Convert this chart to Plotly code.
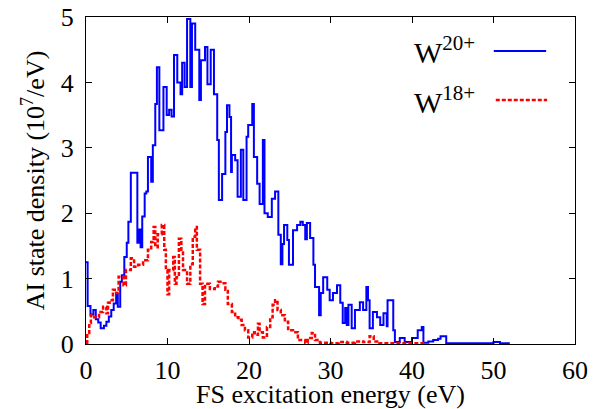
import plotly.graph_objects as go

# W20+ step breakpoints (eV) and AI state density (10^7/eV)
w20_e = [0.0, 0.2, 0.55, 0.9, 1.2, 1.5, 1.8, 2.2, 2.5, 2.8, 3.1, 3.4, 3.7, 3.9, 4.2, 4.4, 4.7, 5.0, 5.2, 5.5,
         6.3, 6.5, 6.7, 6.9, 7.2, 7.4, 7.6, 8.0, 8.2, 8.5, 8.7, 9.0, 9.5, 9.9, 10.2, 10.5, 10.8, 11.2, 11.6, 11.8,
         12.1, 12.4, 12.8, 13.0, 13.4, 13.9, 14.1, 14.6, 14.9, 15.3, 15.7, 16.1, 16.3, 16.7, 17.1, 17.3, 17.6, 17.8, 17.9, 18.3,
         18.6, 19.0, 19.3, 19.7, 19.9, 20.4, 20.6, 21.0, 21.3, 21.7, 21.9, 22.3, 22.8, 23.2, 23.6, 23.9, 24.1, 24.3, 24.7, 24.9,
         25.4, 25.9, 26.3, 26.6, 26.9, 27.1, 27.5, 27.9, 28.1, 28.6, 28.8, 29.1, 29.6, 29.9, 30.3, 30.8, 31.2, 31.5, 31.8, 32.0,
         32.2, 32.6, 33.0, 33.6, 34.0, 34.4, 34.6, 34.8, 35.2, 35.7, 36.1, 36.5, 36.9, 37.0, 37.7, 37.9, 38.5, 39.1, 40.0, 40.7,
         41.2, 41.4, 42.0, 42.6, 43.2, 43.5, 44.2, 50.0, 50.8, 52.0]
w20_v = [1.25, 0.58, 0.45, 0.52, 0.38, 0.33, 0.24, 0.28, 0.34, 0.42, 0.52, 0.62, 0.75, 0.57, 0.95, 1.05, 1.33, 1.55, 1.87, 2.62,
         1.55, 1.75, 1.48, 1.95, 2.3, 2.33, 2.86, 2.48, 3.04, 3.67, 4.23, 3.27, 3.93, 3.5, 3.58, 3.48, 4.42, 4.0, 3.82, 4.3,
         3.93, 4.97, 3.93, 4.9, 4.5, 3.73, 4.34, 4.54, 3.97, 4.5, 3.82, 3.12, 2.2, 2.6, 3.24, 3.65, 3.47, 2.63, 2.89, 2.81,
         2.25, 2.97, 2.2, 3.17, 3.35, 3.67, 2.86, 2.45, 2.14, 3.12, 2.0, 1.94, 2.22, 2.33, 1.67, 1.22, 1.53, 1.82, 1.59, 1.21,
         1.74, 1.82, 1.87, 1.82, 1.6, 1.85, 1.62, 1.21, 0.87, 0.44, 0.78, 1.02, 0.83, 0.67, 0.78, 0.9, 0.63, 0.32, 0.55, 0.29,
         0.6, 0.24, 0.52, 0.64, 0.52, 0.87, 0.67, 0.24, 0.49, 0.41, 0.29, 0.47, 0.27, 0.67, 0.21, 0.03, 0.09, 0.03, 0.09, 0.21,
         0.26, 0.02, 0.04, 0.06, 0.08, 0.12, 0.01, 0.03, 0.01, 0.01]

# W18+ step breakpoints (eV) and AI state density (10^7/eV)
w18_e = [0.0, 0.15, 0.4, 0.6, 1.0, 1.6, 2.1, 2.5, 2.7, 2.9, 3.3, 3.7, 4.0, 4.6, 4.9, 5.5, 5.9, 6.4, 7.0, 7.6,
         8.0, 8.3, 8.5, 8.8, 9.3, 9.6, 9.8, 10.0, 10.2, 10.7, 10.9, 11.1, 11.4, 11.7, 11.9, 12.4, 12.8, 13.1, 13.4, 13.6,
         14.0, 14.3, 14.6, 15.2, 15.8, 16.2, 16.7, 17.1, 17.4, 17.9, 18.3, 18.7, 19.1, 19.5, 19.9, 20.4, 20.7, 21.1, 21.3, 21.7,
         22.2, 22.6, 22.9, 23.2, 23.5, 23.9, 24.4, 24.8, 25.4, 26.0, 26.9, 27.2, 27.7, 28.1, 28.7, 30.0, 31.0, 32.0, 33.0, 34.0,
         34.8, 35.3, 36.0, 41.5]
w18_v = [0.02, 0.17, 0.32, 0.44, 0.41, 0.49, 0.57, 0.47, 0.63, 0.67, 0.83, 0.78, 1.03, 0.9, 1.13, 1.31, 1.18, 1.21, 1.28, 1.44,
         1.56, 1.79, 1.48, 1.68, 1.82, 1.44, 1.13, 0.76, 1.13, 1.33, 0.92, 1.02, 1.61, 1.44, 1.13, 0.92, 1.22, 1.64, 1.79, 1.44,
         0.92, 0.61, 0.92, 0.84, 0.88, 0.95, 0.93, 0.83, 0.61, 0.49, 0.41, 0.37, 0.29, 0.21, 0.1, 0.18, 0.14, 0.31, 0.18, 0.1,
         0.26, 0.41, 0.6, 0.67, 0.52, 0.44, 0.34, 0.21, 0.18, 0.06, 0.02, 0.09, 0.17, 0.06, 0.02, 0.01, 0.03, 0.02, 0.04, 0.03,
         0.12, 0.04, 0.01, 0.01]

x_ticks = [0, 10, 20, 30, 40, 50, 60]
y_ticks = [0, 1, 2, 3, 4, 5]

FONT = "Liberation Serif, Times New Roman, serif"

fig = go.Figure()
fig.add_trace(go.Scatter(x=w20_e, y=w20_v, mode="lines", line_shape="hv",
                         line=dict(color="#0000ff", width=2), name="W20+", showlegend=False))
fig.add_trace(go.Scatter(x=w18_e, y=w18_v, mode="lines", line_shape="hv",
                         line=dict(color="#ff0000", width=2.5, dash="4px,2px"), name="W18+", showlegend=False))

# legend built from text + sample lines (text left of sample, gnuplot style)
fig.add_annotation(x=0.80, y=0.899, xref="paper", yref="paper", xanchor="right", yanchor="middle",
                   text="W<sup>20+</sup>", showarrow=False, font=dict(family=FONT, size=30, color="black"))
fig.add_annotation(x=0.80, y=0.746, xref="paper", yref="paper", xanchor="right", yanchor="middle",
                   text="W<sup>18+</sup>", showarrow=False, font=dict(family=FONT, size=30, color="black"))
fig.add_shape(type="line", xref="paper", yref="paper", x0=0.834, x1=0.941, y0=0.896, y1=0.896,
              line=dict(color="#0000ff", width=2))
fig.add_shape(type="line", xref="paper", yref="paper", x0=0.838, x1=0.943, y0=0.746, y1=0.746,
              line=dict(color="#ff0000", width=2.5, dash="4px,2px"))

axis_common = dict(showgrid=False, zeroline=False, showline=True, linecolor="black", linewidth=1,
                   mirror="ticks", ticks="inside", ticklen=6, tickcolor="black", automargin=False,
                   tickfont=dict(family=FONT, size=26, color="black"))
fig.update_xaxes(range=[0, 60], tickvals=x_ticks, ticktext=[str(v) for v in x_ticks], ticklabelstandoff=3,
                 title=dict(text="FS excitation energy (eV)", font=dict(family=FONT, size=26, color="black"), standoff=0),
                 **axis_common)
fig.update_yaxes(range=[0, 5], tickvals=y_ticks, ticktext=[str(v) for v in y_ticks], ticklabelstandoff=6,
                 title=dict(text="AI state density (10<sup>7</sup>/eV)", font=dict(family=FONT, size=26, color="black"), standoff=8),
                 **axis_common)
fig.update_layout(width=598, height=409, margin=dict(l=86, r=23, t=17, b=65),
                  plot_bgcolor="white", paper_bgcolor="white")
fig.write_html("out.html", config={"displayModeBar": False},
               post_script="document.body.style.margin='0';document.body.style.overflow='hidden';")
